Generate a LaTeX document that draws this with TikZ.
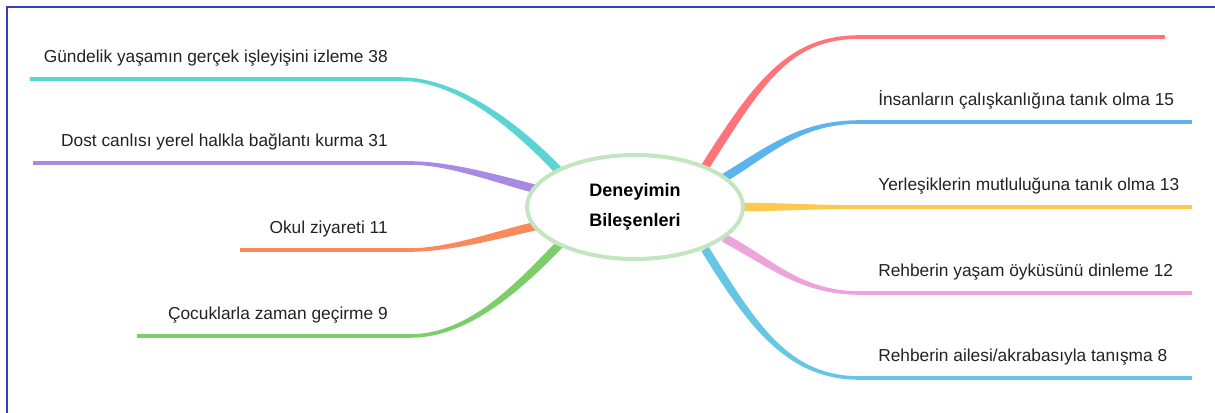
\documentclass[tikz,border=0pt]{standalone}
\usepackage{fontspec}
\setmainfont{Liberation Sans}
\usetikzlibrary{calc,shapes.geometric}
\pgfdeclarelayer{bg}\pgfsetlayers{bg,main}
\definecolor{cteal}{HTML}{5AD4D4}
\definecolor{cpurple}{HTML}{A88AE4}
\definecolor{corange}{HTML}{F98A5C}
\definecolor{cgreen}{HTML}{7DCE6B}
\definecolor{cred}{HTML}{FF7479}
\definecolor{cblue}{HTML}{5BB4EE}
\definecolor{cyellow}{HTML}{FFC84E}
\definecolor{cpink}{HTML}{EFA3DD}
\definecolor{ccyan}{HTML}{65C7E5}
\definecolor{cring}{HTML}{C3E6C0}
\definecolor{cframe}{HTML}{3B3BC2}
\definecolor{ctext}{HTML}{222222}
\def\wa{3.2pt}
\def\wb{1.35pt}
\newcommand\tbranch[6]{%
  \fill[#1] ($(#2)!\wa!90:(#3)$) .. controls ($(#3)!\wa!-90:(#2)$) and ($(#4)!\wb!90:(#5)$) .. ($(#5)!\wb!-90:(#4)$)
    -- ($(#5)!\wb!90:(#4)$) .. controls ($(#4)!\wb!-90:(#5)$) and ($(#3)!\wa!90:(#2)$) .. ($(#2)!\wa!-90:(#3)$) -- cycle;
  \draw[#1, line width=2*\wb] (#5) -- (#6);
}
\tikzset{
  lbl/.style={inner sep=0pt, text=ctext, font=\fontsize{13pt}{15pt}\selectfont},
  lleft/.style={lbl, anchor=base east},
  lright/.style={lbl, anchor=base west},
  hub/.style={ellipse, draw=cring, line width=3pt, fill=white, inner sep=0pt,
    minimum width=162pt, minimum height=78pt, align=center, text=black,
    font=\fontsize{13.5pt}{22pt}\selectfont\bfseries}
}
\begin{document}
\begin{tikzpicture}[x=0.75pt,y=-0.75pt]
\useasboundingbox (0,0) rectangle (1215,413);
\draw[cframe, line width=1.5pt] (7,413) -- (7,7) -- (1215,7);

\node[hub] (c) at (635,207) {Deneyimin\\Bileşenleri};

\node[lleft] (l1) at (388,62.5) {Gündelik yaşamın gerçek işleyişini izleme 38};
\node[lleft] (l2) at (388,146.5) {Dost canlısı yerel halkla bağlantı kurma 31};
\node[lleft] (l3) at (388,233.5) {Okul ziyareti 11};
\node[lleft] (l4) at (388,319.5) {Çocuklarla zaman geçirme 9};
\node[lright] (r2) at (878,105.5) {İnsanların çalışkanlığına tanık olma 15};
\node[lright] (r3) at (878,190.5) {Yerleşiklerin mutluluğuna tanık olma 13};
\node[lright] (r4) at (878,276.5) {Rehberin yaşam öyküsünü dinleme 12};
\node[lright] (r5) at (878,361.5) {Rehberin ailesi/akrabasıyla tanışma 8};

% branch geometry
\coordinate (s1) at (560,172); \coordinate (a1) at (520,130); \coordinate (b1) at (460,79);  \coordinate (e1) at (400,79);  \coordinate (t1) at (30,79);
\coordinate (s2) at (536,189); \coordinate (a2) at (500,180); \coordinate (b2) at (450,163); \coordinate (e2) at (410,163); \coordinate (t2) at (33,163);
\coordinate (s3) at (536,226); \coordinate (a3) at (500,234); \coordinate (b3) at (450,250); \coordinate (e3) at (410,250); \coordinate (t3) at (240,250);
\coordinate (s4) at (560,244); \coordinate (a4) at (520,285); \coordinate (b4) at (470,336); \coordinate (e4) at (410,336); \coordinate (t4) at (137,336);
\coordinate (s5) at (705,167); \coordinate (a5) at (760,80);  \coordinate (b5) at (790,37);  \coordinate (e5) at (860,37);  \coordinate (t5) at (1165,37);
\coordinate (s6) at (724,178); \coordinate (a6) at (770,150); \coordinate (b6) at (800,122); \coordinate (e6) at (860,122); \coordinate (t6) at (1192,122);
\coordinate (s7) at (738,207); \coordinate (a7) at (780,207); \coordinate (b7) at (820,207); \coordinate (e7) at (860,207); \coordinate (t7) at (1192,207);
\coordinate (s8) at (724,238); \coordinate (a8) at (770,262); \coordinate (b8) at (800,293); \coordinate (e8) at (860,293); \coordinate (t8) at (1192,293);
\coordinate (s9) at (705,249); \coordinate (a9) at (755,330); \coordinate (b9) at (790,378); \coordinate (e9) at (860,378); \coordinate (t9) at (1192,378);

\begin{pgfonlayer}{bg}
\tbranch{cteal}{s1}{a1}{b1}{e1}{t1}
\tbranch{cpurple}{s2}{a2}{b2}{e2}{t2}
\tbranch{corange}{s3}{a3}{b3}{e3}{t3}
\tbranch{cgreen}{s4}{a4}{b4}{e4}{t4}
\tbranch{cred}{s5}{a5}{b5}{e5}{t5}
\tbranch{cblue}{s6}{a6}{b6}{e6}{t6}
\tbranch{cyellow}{s7}{a7}{b7}{e7}{t7}
\tbranch{cpink}{s8}{a8}{b8}{e8}{t8}
\tbranch{ccyan}{s9}{a9}{b9}{e9}{t9}
\end{pgfonlayer}
\end{tikzpicture}
\end{document}
